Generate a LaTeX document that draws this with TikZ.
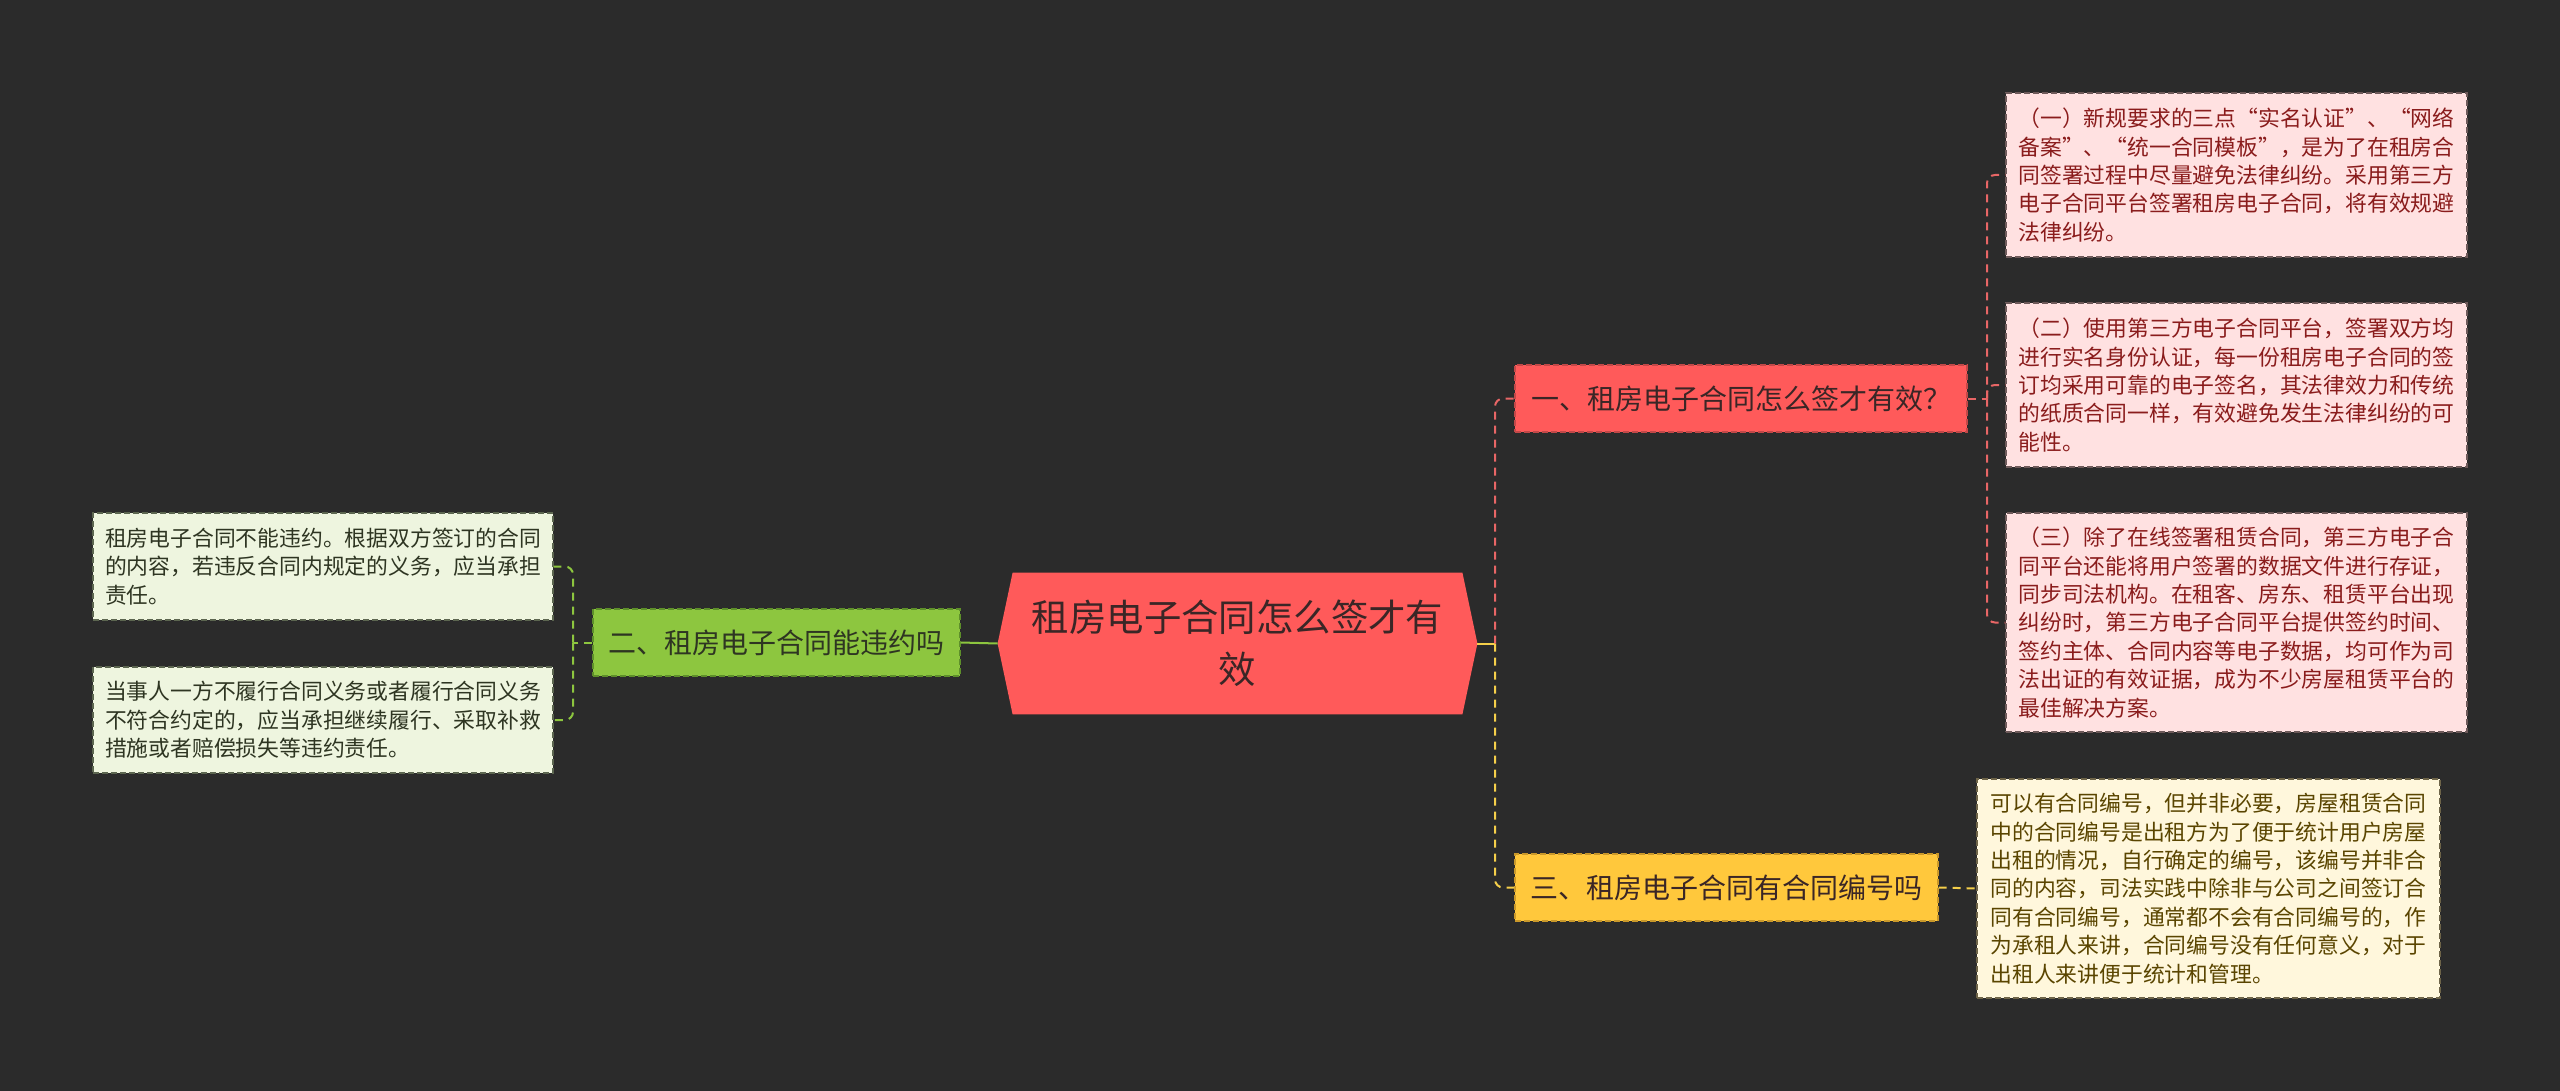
\documentclass[tikz,border=0pt]{standalone}
\usepackage{fontspec}
\newfontfamily\cjk{Noto Sans CJK SC}
\usetikzlibrary{calc}
\pgfdeclarelayer{back}
\pgfsetlayers{back,main}
\definecolor{bgc}{HTML}{2B2B2B}
\definecolor{cred}{HTML}{FF5A5A}
\definecolor{ctext}{HTML}{3A2626}
\definecolor{rborder}{HTML}{C24848}
\definecolor{rleaf}{HTML}{FFE1E1}
\definecolor{rleafb}{HTML}{6E5A5A}
\definecolor{rtext}{HTML}{8A1C1C}
\definecolor{rline}{HTML}{E86666}
\definecolor{gfill}{HTML}{8DC63F}
\definecolor{gborder}{HTML}{5E8F2A}
\definecolor{gleaf}{HTML}{EEF5DF}
\definecolor{gleafb}{HTML}{5C6650}
\definecolor{gtext}{HTML}{2E3522}
\definecolor{gline}{HTML}{8DC63F}
\definecolor{yfill}{HTML}{FFC83C}
\definecolor{yborder}{HTML}{C9982A}
\definecolor{yleaf}{HTML}{FFF7DC}
\definecolor{yleafb}{HTML}{6E6448}
\definecolor{ytext}{HTML}{5A4500}
\definecolor{yline}{HTML}{F5CF4A}
\tikzset{
  leafbase/.style={draw, dash pattern=on 3pt off 1.5pt, line width=0.6pt,
    font=\cjk\fontsize{10.9}{14.2}\selectfont, align=left, inner xsep=6pt, inner ysep=0pt},
  leafr/.style={leafbase, draw=rleafb, fill=rleaf, text=rtext, minimum width=230.5pt},
  leafg/.style={leafbase, draw=gleafb, fill=gleaf, text=gtext, minimum width=230pt},
  leafy/.style={leafbase, draw=yleafb, fill=yleaf, text=ytext, minimum width=231.5pt},
  branchbox/.style={draw, dash pattern=on 3pt off 1.5pt, line width=0.6pt,
    font=\cjk\fontsize{14}{17}\selectfont, minimum height=33.5pt, inner sep=0pt},
  conn/.style={line width=1pt},
  dconn/.style={line width=1pt, dash pattern=on 4pt off 3pt}
}
\begin{document}
\begin{tikzpicture}[x=0.5pt,y=-0.5pt]
\useasboundingbox (0,0) rectangle (2560,1091);

% center
\node[font=\cjk\fontsize{18.7}{26}\selectfont, text=ctext, align=center,
      minimum width=239.5pt, minimum height=70.5pt, inner sep=0pt] (c) at (1237.5,643.5)
  {租房电子合同怎么签才有\\效};
\begin{pgfonlayer}{back}
\fill[bgc] (0,0) rectangle (2560,1091);
\fill[cred] ($(c.north west)+(15,0)$) -- ($(c.north east)+(-15,0)$) -- (c.east)
  -- ($(c.south east)+(-15,0)$) -- ($(c.south west)+(15,0)$) -- (c.west) -- cycle;
\end{pgfonlayer}

% branches
\node[branchbox, draw=rborder, fill=cred, text=ctext, minimum width=226pt] (b1) at (1741,398.5)
  {一、租房电子合同怎么签才有效？};
\node[branchbox, draw=gborder, fill=gfill, text=gtext, minimum width=183.5pt] (b2) at (776.5,642.5)
  {二、租房电子合同能违约吗};
\node[branchbox, draw=yborder, fill=yfill, text=ctext, minimum width=211.5pt] (b3) at (1726.5,887.5)
  {三、租房电子合同有合同编号吗};

% right red leaves
\node[leafr, minimum height=82pt] (r1) at (2236.5,175)
  {（一）新规要求的三点“实名认证”、“网络\\
   备案”、“统一合同模板”，是为了在租房合\\
   同签署过程中尽量避免法律纠纷。采用第三方\\
   电子合同平台签署租房电子合同，将有效规避\\
   法律纠纷。};
\node[leafr, minimum height=82pt] (r2) at (2236.5,385)
  {（二）使用第三方电子合同平台，签署双方均\\
   进行实名身份认证，每一份租房电子合同的签\\
   订均采用可靠的电子签名，其法律效力和传统\\
   的纸质合同一样，有效避免发生法律纠纷的可\\
   能性。};
\node[leafr, minimum height=109.5pt] (r3) at (2236.5,622.5)
  {（三）除了在线签署租赁合同，第三方电子合\\
   同平台还能将用户签署的数据文件进行存证，\\
   同步司法机构。在租客、房东、租赁平台出现\\
   纠纷时，第三方电子合同平台提供签约时间、\\
   签约主体、合同内容等电子数据，均可作为司\\
   法出证的有效证据，成为不少房屋租赁平台的\\
   最佳解决方案。};

% yellow leaf
\node[leafy, minimum height=109.5pt] (y1) at (2208.5,888.5)
  {可以有合同编号，但并非必要，房屋租赁合同\\
   中的合同编号是出租方为了便于统计用户房屋\\
   出租的情况，自行确定的编号，该编号并非合\\
   同的内容，司法实践中除非与公司之间签订合\\
   同有合同编号，通常都不会有合同编号的，作\\
   为承租人来讲，合同编号没有任何意义，对于\\
   出租人来讲便于统计和管理。};

% left green leaves
\node[leafg, minimum height=53.5pt] (l1) at (323,566.5)
  {租房电子合同不能违约。根据双方签订的合同\\
   的内容，若违反合同内规定的义务，应当承担\\
   责任。};
\node[leafg, minimum height=53pt] (l2) at (323,720)
  {当事人一方不履行合同义务或者履行合同义务\\
   不符合约定的，应当承担继续履行、采取补救\\
   措施或者赔偿损失等违约责任。};

% connectors left
\draw[conn, draw=gline] (c.west) -- (b2.east);
\coordinate (lt) at (573,642.5);
\draw[dconn, draw=gline] (b2.west) -- (lt);
\draw[dconn, draw=gline, rounded corners=4pt] (lt) |- (l1.east);
\draw[dconn, draw=gline, rounded corners=4pt] (lt) |- (l2.east);

% connectors right
\coordinate (rt) at (1495,643.5);
\draw[conn, draw=yline] (c.east) -- (rt);
\draw[dconn, draw=rline, rounded corners=4pt] (rt) |- (b1.west);
\draw[dconn, draw=yline, rounded corners=4pt] (rt) |- (b3.west);
\coordinate (rt2) at (1987,398.5);
\draw[dconn, draw=rline] (b1.east) -- (rt2);
\draw[dconn, draw=rline, rounded corners=4pt] (rt2) |- (r1.west);
\draw[dconn, draw=rline, rounded corners=4pt] (rt2) |- (r2.west);
\draw[dconn, draw=rline, rounded corners=4pt] (rt2) |- (r3.west);
\draw[dconn, draw=yline] (b3.east) -- (y1.west);
\end{tikzpicture}
\end{document}
